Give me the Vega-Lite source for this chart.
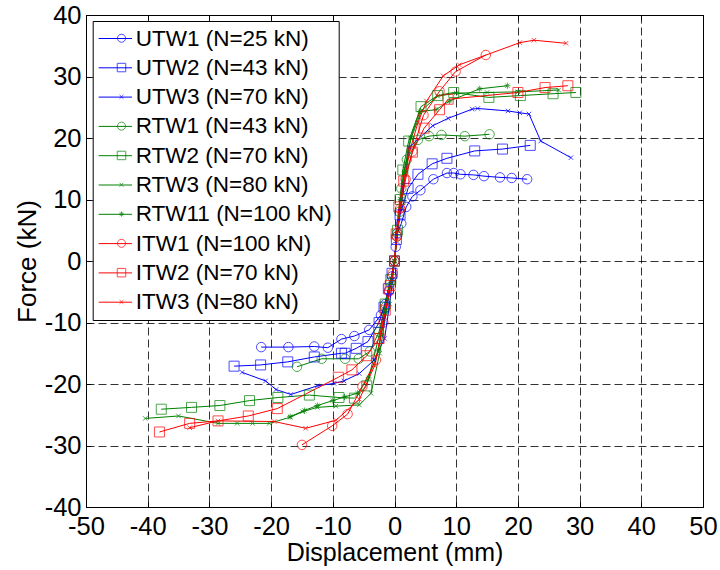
{
  "$schema": "https://vega.github.io/schema/vega-lite/v6.json",
  "width": 617,
  "height": 492,
  "autosize": {"type": "none"},
  "padding": {"left": 86, "top": 15, "right": 17, "bottom": 63},
  "background": "white",
  "data": {"values": [
    {"s":"UTW1 (N=25 kN)","x":-21.6,"y":-14.0},{"s":"UTW1 (N=25 kN)","x":-17.2,"y":-14.0},{"s":"UTW1 (N=25 kN)","x":-13.0,"y":-13.9},{"s":"UTW1 (N=25 kN)","x":-10.8,"y":-14.1},{"s":"UTW1 (N=25 kN)","x":-8.6,"y":-12.7},{"s":"UTW1 (N=25 kN)","x":-6.5,"y":-12.2},{"s":"UTW1 (N=25 kN)","x":-4.1,"y":-11.2},{"s":"UTW1 (N=25 kN)","x":-2.2,"y":-8.8},{"s":"UTW1 (N=25 kN)","x":-1.5,"y":-7.0},{"s":"UTW1 (N=25 kN)","x":-0.9,"y":-4.8},{"s":"UTW1 (N=25 kN)","x":-0.4,"y":-2.5},{"s":"UTW1 (N=25 kN)","x":0.0,"y":0.0},{"s":"UTW1 (N=25 kN)","x":0.2,"y":2.3},{"s":"UTW1 (N=25 kN)","x":0.45,"y":4.5},{"s":"UTW1 (N=25 kN)","x":1.1,"y":6.1},{"s":"UTW1 (N=25 kN)","x":1.9,"y":8.8},{"s":"UTW1 (N=25 kN)","x":2.9,"y":10.5},{"s":"UTW1 (N=25 kN)","x":4.2,"y":11.5},{"s":"UTW1 (N=25 kN)","x":6.3,"y":13.3},{"s":"UTW1 (N=25 kN)","x":8.5,"y":14.3},{"s":"UTW1 (N=25 kN)","x":9.6,"y":14.3},{"s":"UTW1 (N=25 kN)","x":10.7,"y":14.1},{"s":"UTW1 (N=25 kN)","x":12.8,"y":14.0},{"s":"UTW1 (N=25 kN)","x":14.5,"y":13.8},{"s":"UTW1 (N=25 kN)","x":17.1,"y":13.6},{"s":"UTW1 (N=25 kN)","x":19.0,"y":13.5},{"s":"UTW1 (N=25 kN)","x":21.5,"y":13.3},
    {"s":"UTW2 (N=43 kN)","x":-26.0,"y":-17.1},{"s":"UTW2 (N=43 kN)","x":-21.7,"y":-16.9},{"s":"UTW2 (N=43 kN)","x":-17.3,"y":-16.4},{"s":"UTW2 (N=43 kN)","x":-13.0,"y":-15.6},{"s":"UTW2 (N=43 kN)","x":-8.6,"y":-15.0},{"s":"UTW2 (N=43 kN)","x":-8.0,"y":-15.0},{"s":"UTW2 (N=43 kN)","x":-6.2,"y":-14.2},{"s":"UTW2 (N=43 kN)","x":-4.3,"y":-13.1},{"s":"UTW2 (N=43 kN)","x":-2.5,"y":-10.0},{"s":"UTW2 (N=43 kN)","x":-1.7,"y":-7.5},{"s":"UTW2 (N=43 kN)","x":-1.0,"y":-4.5},{"s":"UTW2 (N=43 kN)","x":-0.4,"y":-2.0},{"s":"UTW2 (N=43 kN)","x":0.0,"y":0.0},{"s":"UTW2 (N=43 kN)","x":0.3,"y":3.5},{"s":"UTW2 (N=43 kN)","x":0.9,"y":7.5},{"s":"UTW2 (N=43 kN)","x":2.2,"y":11.8},{"s":"UTW2 (N=43 kN)","x":3.8,"y":14.1},{"s":"UTW2 (N=43 kN)","x":6.1,"y":15.8},{"s":"UTW2 (N=43 kN)","x":8.5,"y":16.7},{"s":"UTW2 (N=43 kN)","x":13.0,"y":17.9},{"s":"UTW2 (N=43 kN)","x":17.5,"y":18.2},{"s":"UTW2 (N=43 kN)","x":22.0,"y":18.8},
    {"s":"UTW3 (N=70 kN)","x":-24.7,"y":-18.1},{"s":"UTW3 (N=70 kN)","x":-20.9,"y":-19.5},{"s":"UTW3 (N=70 kN)","x":-19.2,"y":-20.9},{"s":"UTW3 (N=70 kN)","x":-16.8,"y":-21.7},{"s":"UTW3 (N=70 kN)","x":-12.5,"y":-20.3},{"s":"UTW3 (N=70 kN)","x":-9.8,"y":-19.9},{"s":"UTW3 (N=70 kN)","x":-8.2,"y":-19.5},{"s":"UTW3 (N=70 kN)","x":-5.7,"y":-18.3},{"s":"UTW3 (N=70 kN)","x":-3.3,"y":-16.1},{"s":"UTW3 (N=70 kN)","x":-1.6,"y":-12.6},{"s":"UTW3 (N=70 kN)","x":-0.8,"y":-7.0},{"s":"UTW3 (N=70 kN)","x":-0.3,"y":-3.0},{"s":"UTW3 (N=70 kN)","x":0.0,"y":0.0},{"s":"UTW3 (N=70 kN)","x":0.5,"y":5.0},{"s":"UTW3 (N=70 kN)","x":1.2,"y":10.0},{"s":"UTW3 (N=70 kN)","x":2.4,"y":18.5},{"s":"UTW3 (N=70 kN)","x":6.2,"y":22.0},{"s":"UTW3 (N=70 kN)","x":8.7,"y":23.2},{"s":"UTW3 (N=70 kN)","x":12.6,"y":24.7},{"s":"UTW3 (N=70 kN)","x":13.5,"y":24.8},{"s":"UTW3 (N=70 kN)","x":18.4,"y":24.4},{"s":"UTW3 (N=70 kN)","x":20.3,"y":24.1},{"s":"UTW3 (N=70 kN)","x":21.8,"y":23.9},{"s":"UTW3 (N=70 kN)","x":23.7,"y":19.5},{"s":"UTW3 (N=70 kN)","x":28.6,"y":16.8},
    {"s":"RTW1 (N=43 kN)","x":-15.8,"y":-17.2},{"s":"RTW1 (N=43 kN)","x":-11.8,"y":-15.9},{"s":"RTW1 (N=43 kN)","x":-8.0,"y":-15.9},{"s":"RTW1 (N=43 kN)","x":-5.8,"y":-15.9},{"s":"RTW1 (N=43 kN)","x":-4.0,"y":-14.7},{"s":"RTW1 (N=43 kN)","x":-2.5,"y":-11.5},{"s":"RTW1 (N=43 kN)","x":-1.5,"y":-7.5},{"s":"RTW1 (N=43 kN)","x":-0.7,"y":-3.5},{"s":"RTW1 (N=43 kN)","x":0.0,"y":0.0},{"s":"RTW1 (N=43 kN)","x":0.4,"y":4.0},{"s":"RTW1 (N=43 kN)","x":0.8,"y":8.0},{"s":"RTW1 (N=43 kN)","x":1.1,"y":11.8},{"s":"RTW1 (N=43 kN)","x":2.0,"y":16.5},{"s":"RTW1 (N=43 kN)","x":3.8,"y":19.7},{"s":"RTW1 (N=43 kN)","x":5.6,"y":20.3},{"s":"RTW1 (N=43 kN)","x":7.6,"y":20.5},{"s":"RTW1 (N=43 kN)","x":11.4,"y":20.3},{"s":"RTW1 (N=43 kN)","x":15.4,"y":20.6},
    {"s":"RTW2 (N=70 kN)","x":-37.8,"y":-24.1},{"s":"RTW2 (N=70 kN)","x":-32.9,"y":-23.8},{"s":"RTW2 (N=70 kN)","x":-28.3,"y":-23.5},{"s":"RTW2 (N=70 kN)","x":-23.5,"y":-22.7},{"s":"RTW2 (N=70 kN)","x":-18.9,"y":-22.2},{"s":"RTW2 (N=70 kN)","x":-13.8,"y":-21.8},{"s":"RTW2 (N=70 kN)","x":-9.0,"y":-22.2},{"s":"RTW2 (N=70 kN)","x":-6.5,"y":-22.3},{"s":"RTW2 (N=70 kN)","x":-4.5,"y":-20.3},{"s":"RTW2 (N=70 kN)","x":-2.6,"y":-12.6},{"s":"RTW2 (N=70 kN)","x":-1.5,"y":-7.0},{"s":"RTW2 (N=70 kN)","x":-0.6,"y":-3.0},{"s":"RTW2 (N=70 kN)","x":0.0,"y":0.0},{"s":"RTW2 (N=70 kN)","x":0.5,"y":5.0},{"s":"RTW2 (N=70 kN)","x":0.9,"y":10.0},{"s":"RTW2 (N=70 kN)","x":1.35,"y":14.8},{"s":"RTW2 (N=70 kN)","x":2.3,"y":19.5},{"s":"RTW2 (N=70 kN)","x":4.3,"y":25.1},{"s":"RTW2 (N=70 kN)","x":7.0,"y":26.9},{"s":"RTW2 (N=70 kN)","x":9.6,"y":27.4},{"s":"RTW2 (N=70 kN)","x":15.3,"y":26.6},{"s":"RTW2 (N=70 kN)","x":20.4,"y":26.9},{"s":"RTW2 (N=70 kN)","x":25.7,"y":27.2},{"s":"RTW2 (N=70 kN)","x":29.4,"y":27.4},
    {"s":"RTW3 (N=80 kN)","x":-40.4,"y":-25.6},{"s":"RTW3 (N=80 kN)","x":-35.0,"y":-25.2},{"s":"RTW3 (N=80 kN)","x":-28.6,"y":-26.4},{"s":"RTW3 (N=80 kN)","x":-25.5,"y":-26.4},{"s":"RTW3 (N=80 kN)","x":-23.0,"y":-26.4},{"s":"RTW3 (N=80 kN)","x":-20.3,"y":-26.4},{"s":"RTW3 (N=80 kN)","x":-16.9,"y":-25.4},{"s":"RTW3 (N=80 kN)","x":-14.9,"y":-24.5},{"s":"RTW3 (N=80 kN)","x":-12.5,"y":-23.8},{"s":"RTW3 (N=80 kN)","x":-9.5,"y":-23.6},{"s":"RTW3 (N=80 kN)","x":-5.7,"y":-23.4},{"s":"RTW3 (N=80 kN)","x":-3.8,"y":-21.5},{"s":"RTW3 (N=80 kN)","x":-2.4,"y":-15.0},{"s":"RTW3 (N=80 kN)","x":-1.3,"y":-8.0},{"s":"RTW3 (N=80 kN)","x":-0.5,"y":-3.0},{"s":"RTW3 (N=80 kN)","x":0.0,"y":0.0},{"s":"RTW3 (N=80 kN)","x":0.5,"y":5.0},{"s":"RTW3 (N=80 kN)","x":1.0,"y":10.0},{"s":"RTW3 (N=80 kN)","x":1.6,"y":15.0},{"s":"RTW3 (N=80 kN)","x":2.7,"y":20.0},{"s":"RTW3 (N=80 kN)","x":4.4,"y":24.5},{"s":"RTW3 (N=80 kN)","x":7.0,"y":26.8},{"s":"RTW3 (N=80 kN)","x":10.0,"y":27.3},{"s":"RTW3 (N=80 kN)","x":15.0,"y":27.4},{"s":"RTW3 (N=80 kN)","x":20.0,"y":27.5},{"s":"RTW3 (N=80 kN)","x":26.6,"y":27.8},
    {"s":"RTW11 (N=100 kN)","x":-16.9,"y":-25.3},{"s":"RTW11 (N=100 kN)","x":-14.6,"y":-24.3},{"s":"RTW11 (N=100 kN)","x":-12.5,"y":-23.5},{"s":"RTW11 (N=100 kN)","x":-10.0,"y":-22.7},{"s":"RTW11 (N=100 kN)","x":-8.1,"y":-22.1},{"s":"RTW11 (N=100 kN)","x":-6.0,"y":-21.5},{"s":"RTW11 (N=100 kN)","x":-4.2,"y":-19.0},{"s":"RTW11 (N=100 kN)","x":-2.6,"y":-14.5},{"s":"RTW11 (N=100 kN)","x":-1.5,"y":-8.5},{"s":"RTW11 (N=100 kN)","x":-0.6,"y":-3.5},{"s":"RTW11 (N=100 kN)","x":0.0,"y":0.0},{"s":"RTW11 (N=100 kN)","x":0.5,"y":5.0},{"s":"RTW11 (N=100 kN)","x":1.0,"y":10.0},{"s":"RTW11 (N=100 kN)","x":1.6,"y":14.5},{"s":"RTW11 (N=100 kN)","x":2.6,"y":20.0},{"s":"RTW11 (N=100 kN)","x":4.1,"y":24.3},{"s":"RTW11 (N=100 kN)","x":6.7,"y":24.6},{"s":"RTW11 (N=100 kN)","x":8.9,"y":26.0},{"s":"RTW11 (N=100 kN)","x":13.8,"y":28.0},{"s":"RTW11 (N=100 kN)","x":18.3,"y":28.5},
    {"s":"ITW1 (N=100 kN)","x":-15.0,"y":-29.9},{"s":"ITW1 (N=100 kN)","x":-10.1,"y":-26.8},{"s":"ITW1 (N=100 kN)","x":-7.6,"y":-24.9},{"s":"ITW1 (N=100 kN)","x":-5.2,"y":-20.4},{"s":"ITW1 (N=100 kN)","x":-3.0,"y":-16.1},{"s":"ITW1 (N=100 kN)","x":-1.8,"y":-10.0},{"s":"ITW1 (N=100 kN)","x":-0.9,"y":-5.0},{"s":"ITW1 (N=100 kN)","x":-0.3,"y":-2.0},{"s":"ITW1 (N=100 kN)","x":0.0,"y":0.0},{"s":"ITW1 (N=100 kN)","x":0.4,"y":4.0},{"s":"ITW1 (N=100 kN)","x":0.9,"y":8.5},{"s":"ITW1 (N=100 kN)","x":1.8,"y":13.3},{"s":"ITW1 (N=100 kN)","x":2.9,"y":17.8},{"s":"ITW1 (N=100 kN)","x":4.7,"y":23.7},{"s":"ITW1 (N=100 kN)","x":7.3,"y":27.6},{"s":"ITW1 (N=100 kN)","x":9.9,"y":30.8},{"s":"ITW1 (N=100 kN)","x":14.8,"y":33.5},
    {"s":"ITW2 (N=70 kN)","x":-38.1,"y":-27.8},{"s":"ITW2 (N=70 kN)","x":-33.2,"y":-26.4},{"s":"ITW2 (N=70 kN)","x":-28.6,"y":-26.0},{"s":"ITW2 (N=70 kN)","x":-23.7,"y":-25.2},{"s":"ITW2 (N=70 kN)","x":-19.0,"y":-24.0},{"s":"ITW2 (N=70 kN)","x":-9.1,"y":-18.9},{"s":"ITW2 (N=70 kN)","x":-6.9,"y":-17.7},{"s":"ITW2 (N=70 kN)","x":-4.5,"y":-15.4},{"s":"ITW2 (N=70 kN)","x":-2.5,"y":-12.6},{"s":"ITW2 (N=70 kN)","x":-1.5,"y":-8.0},{"s":"ITW2 (N=70 kN)","x":-0.7,"y":-4.0},{"s":"ITW2 (N=70 kN)","x":0.0,"y":0.0},{"s":"ITW2 (N=70 kN)","x":0.27,"y":4.4},{"s":"ITW2 (N=70 kN)","x":0.7,"y":8.8},{"s":"ITW2 (N=70 kN)","x":1.5,"y":13.0},{"s":"ITW2 (N=70 kN)","x":2.9,"y":17.7},{"s":"ITW2 (N=70 kN)","x":4.8,"y":21.6},{"s":"ITW2 (N=70 kN)","x":7.3,"y":24.6},{"s":"ITW2 (N=70 kN)","x":8.7,"y":26.3},{"s":"ITW2 (N=70 kN)","x":20.0,"y":27.4},{"s":"ITW2 (N=70 kN)","x":24.4,"y":28.2},{"s":"ITW2 (N=70 kN)","x":28.1,"y":28.5},
    {"s":"ITW3 (N=80 kN)","x":-33.2,"y":-27.1},{"s":"ITW3 (N=80 kN)","x":-28.6,"y":-26.0},{"s":"ITW3 (N=80 kN)","x":-19.5,"y":-26.1},{"s":"ITW3 (N=80 kN)","x":-14.4,"y":-27.2},{"s":"ITW3 (N=80 kN)","x":-9.5,"y":-25.9},{"s":"ITW3 (N=80 kN)","x":-5.7,"y":-22.5},{"s":"ITW3 (N=80 kN)","x":-3.2,"y":-17.0},{"s":"ITW3 (N=80 kN)","x":-1.8,"y":-10.0},{"s":"ITW3 (N=80 kN)","x":-0.8,"y":-5.0},{"s":"ITW3 (N=80 kN)","x":0.0,"y":0.0},{"s":"ITW3 (N=80 kN)","x":0.5,"y":5.0},{"s":"ITW3 (N=80 kN)","x":1.2,"y":11.0},{"s":"ITW3 (N=80 kN)","x":2.5,"y":18.0},{"s":"ITW3 (N=80 kN)","x":3.8,"y":22.5},{"s":"ITW3 (N=80 kN)","x":5.2,"y":26.0},{"s":"ITW3 (N=80 kN)","x":7.9,"y":30.1},{"s":"ITW3 (N=80 kN)","x":10.5,"y":31.9},{"s":"ITW3 (N=80 kN)","x":20.3,"y":35.5},{"s":"ITW3 (N=80 kN)","x":22.6,"y":35.9},{"s":"ITW3 (N=80 kN)","x":27.8,"y":35.4}
  ]},
  "layer": [
    {
      "mark": {"type": "line", "strokeWidth": 1, "clip": true},
      "encoding": {
        "x": {"field": "x", "type": "quantitative",
              "scale": {"domain": [-50, 50], "nice": false, "zero": false},
              "axis": {"orient": "bottom", "values": [-50,-40,-30,-20,-10,0,10,20,30,40,50], "title": "Displacement (mm)",
                       "labelExpr": "'' + datum.value",
                       "titleFontSize": 25, "labelFontSize": 25.5, "tickSize": -5, "labelPadding": 12.5, "titlePadding": 0,
                       "grid": true, "gridDash": [8, 4], "gridColor": "#000000", "gridOpacity": 0.8, "domain": false}},
        "y": {"field": "y", "type": "quantitative",
              "scale": {"domain": [-40, 40], "nice": false, "zero": false},
              "axis": {"orient": "left", "values": [-40,-30,-20,-10,0,10,20,30,40], "title": "Force (kN)",
                       "labelExpr": "'' + datum.value",
                       "titleFontSize": 26, "labelFontSize": 25.5, "tickSize": -5, "labelPadding": 10, "titlePadding": 4,
                       "grid": true, "gridDash": [8, 4], "gridColor": "#000000", "gridOpacity": 0.8, "domain": false}},
        "color": {"field": "s", "type": "nominal",
                  "scale": {"domain": ["UTW1 (N=25 kN)","UTW2 (N=43 kN)","UTW3 (N=70 kN)","RTW1 (N=43 kN)","RTW2 (N=70 kN)","RTW3 (N=80 kN)","RTW11 (N=100 kN)","ITW1 (N=100 kN)","ITW2 (N=70 kN)","ITW3 (N=80 kN)"],
                            "range": ["#0000FF","#0000FF","#0000FF","#008000","#008000","#008000","#008000","#FF0000","#FF0000","#FF0000"]},
                  "legend": {"orient": "none", "legendX": 6.7, "legendY": 6, "title": null,
                             "labelFontSize": 22.5, "labelFont": "Liberation Sans", "labelColor": "black", "labelLimit": 400,
                             "symbolType": "M-1.05,0H1.98", "symbolSize": 484, "symbolStrokeWidth": 1, "symbolFillColor": "transparent",
                             "labelOffset": 14, "rowPadding": 6.3,
                             "padding": 6, "strokeColor": "black", "fillColor": "white", "cornerRadius": 0}}
      }
    },
    {
      "mark": {"type": "point", "filled": false, "strokeWidth": 1, "size": 100, "clip": true},
      "encoding": {
        "x": {"field": "x", "type": "quantitative",
              "scale": {"domain": [-50, 50], "nice": false, "zero": false},
              "axis": {"orient": "top", "values": [-50,-40,-30,-20,-10,0,10,20,30,40,50], "title": null, "labels": false,
                       "tickSize": -5, "grid": false, "domain": false}},
        "y": {"field": "y", "type": "quantitative",
              "scale": {"domain": [-40, 40], "nice": false, "zero": false},
              "axis": {"orient": "right", "values": [-40,-30,-20,-10,0,10,20,30,40], "title": null, "labels": false,
                       "tickSize": -5, "grid": false, "domain": false}},
        "stroke": {"field": "s", "type": "nominal",
                  "scale": {"domain": ["ITW3 (N=80 kN)","ITW2 (N=70 kN)","ITW1 (N=100 kN)","RTW11 (N=100 kN)","RTW3 (N=80 kN)","RTW2 (N=70 kN)","RTW1 (N=43 kN)","UTW3 (N=70 kN)","UTW2 (N=43 kN)","UTW1 (N=25 kN)"],
                            "range": ["#FF0000","#FF0000","#FF0000","#008000","#008000","#008000","#008000","#0000FF","#0000FF","#0000FF"]},
                  "legend": {"orient": "none", "legendX": 18.25, "legendY": 6, "title": null,
                             "values": ["UTW1 (N=25 kN)","UTW2 (N=43 kN)","UTW3 (N=70 kN)","RTW1 (N=43 kN)","RTW2 (N=70 kN)","RTW3 (N=80 kN)","RTW11 (N=100 kN)","ITW1 (N=100 kN)","ITW2 (N=70 kN)","ITW3 (N=80 kN)"],
                             "labelExpr": "''",
                             "labelFontSize": 22.5, "labelFont": "Liberation Sans", "labelColor": "transparent",
                             "symbolSize": 72, "symbolStrokeWidth": 1, "symbolFillColor": "transparent",
                             "labelOffset": 14, "rowPadding": 6.3,
                             "padding": 6, "strokeColor": "transparent", "fillColor": "transparent"}},
        "shape": {"field": "s", "type": "nominal",
                  "scale": {"domain": ["ITW3 (N=80 kN)","ITW2 (N=70 kN)","ITW1 (N=100 kN)","RTW11 (N=100 kN)","RTW3 (N=80 kN)","RTW2 (N=70 kN)","RTW1 (N=43 kN)","UTW3 (N=70 kN)","UTW2 (N=43 kN)","UTW1 (N=25 kN)"],
                            "range": ["M-0.45,-0.45L0.45,0.45M-0.45,0.45L0.45,-0.45","M-1,-1H1V1H-1Z","M-0.95,0A0.95,0.95 0 1,0 0.95,0A0.95,0.95 0 1,0 -0.95,0Z",
                                      "M-0.6,0H0.6M0,-0.6V0.6M-0.42,-0.42L0.42,0.42M-0.42,0.42L0.42,-0.42","M-0.45,-0.45L0.45,0.45M-0.45,0.45L0.45,-0.45","M-1,-1H1V1H-1Z","M-0.95,0A0.95,0.95 0 1,0 0.95,0A0.95,0.95 0 1,0 -0.95,0Z",
                                      "M-0.45,-0.45L0.45,0.45M-0.45,0.45L0.45,-0.45","M-1,-1H1V1H-1Z","M-0.95,0A0.95,0.95 0 1,0 0.95,0A0.95,0.95 0 1,0 -0.95,0Z"]},
                  "legend": {"orient": "none", "legendX": 18.25, "legendY": 6, "title": null,
                             "values": ["UTW1 (N=25 kN)","UTW2 (N=43 kN)","UTW3 (N=70 kN)","RTW1 (N=43 kN)","RTW2 (N=70 kN)","RTW3 (N=80 kN)","RTW11 (N=100 kN)","ITW1 (N=100 kN)","ITW2 (N=70 kN)","ITW3 (N=80 kN)"],
                             "labelExpr": "''",
                             "labelFontSize": 22.5, "labelFont": "Liberation Sans", "labelColor": "transparent",
                             "symbolSize": 72, "symbolStrokeWidth": 1, "symbolFillColor": "transparent",
                             "labelOffset": 14, "rowPadding": 6.3,
                             "padding": 6, "strokeColor": "transparent", "fillColor": "transparent"}}
      }
    }
  ],
  "resolve": {"axis": {"x": "independent", "y": "independent"}},
  "config": {
    "view": {"stroke": "#000000", "strokeWidth": 1},
    "font": "Liberation Sans",
    "axis": {"labelFont": "Liberation Sans", "titleFont": "Liberation Sans", "labelColor": "#000000", "titleColor": "#000000",
             "tickColor": "#000000", "tickWidth": 1, "titleFontWeight": "normal", "labelFlush": false, "labelOverlap": false, "labelBound": false}
  }
}
